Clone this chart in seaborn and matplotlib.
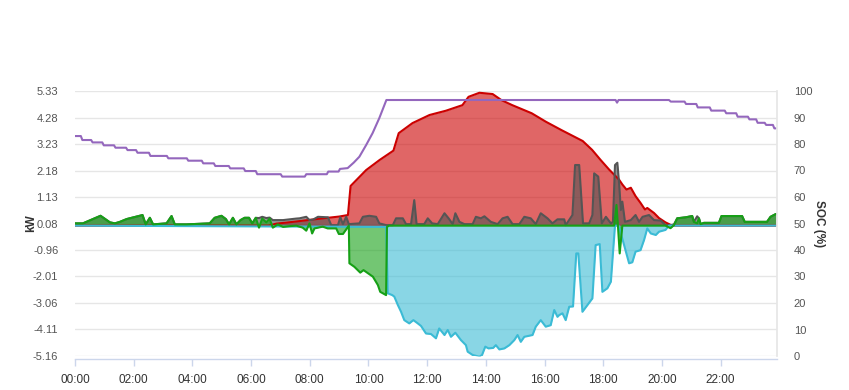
import matplotlib
matplotlib.use("Agg")
import matplotlib.pyplot as plt
import seaborn as sns
import pandas as pd

# ---------------- data (hours of day, kW / %) ----------------
pv = [(0, 0), (6.6, 0), (6.86, 0.08), (7.2, 0.12), (7.65, 0.18), (8.3, 0.27), (9.0, 0.36), (9.3, 0.42),
      (9.39, 1.57), (9.92, 2.2), (10.38, 2.6), (10.85, 2.97), (11.03, 3.66), (11.5, 4.06), (12.08, 4.38),
      (12.64, 4.55), (13.2, 4.77), (13.41, 5.1), (13.78, 5.26), (14.23, 5.21), (14.53, 4.97), (14.9, 4.77),
      (15.56, 4.45), (16.05, 4.11), (16.58, 3.78), (17.3, 3.35), (17.62, 3.0), (17.91, 2.6), (18.2, 2.22),
      (18.37, 2.02), (18.54, 1.82), (18.65, 1.63), (18.79, 1.43), (18.94, 1.5), (19.1, 1.17), (19.27, 0.9),
      (19.42, 0.64), (19.5, 0.7), (19.73, 0.5), (19.9, 0.3), (20.12, 0.13), (20.35, 0.0), (23.88, 0)]

load = [(0, 0.09), (0.27, 0.09), (0.61, 0.26), (0.87, 0.39), (1.08, 0.22), (1.19, 0.13), (1.36, 0.09),
        (1.53, 0.15), (1.76, 0.26), (1.93, 0.31), (2.21, 0.39), (2.3, 0.42), (2.41, 0.05), (2.55, 0.31),
        (2.66, 0.05), (3.12, 0.09), (3.29, 0.38), (3.4, 0.05), (3.8, 0.05), (4.59, 0.09), (4.76, 0.31),
        (4.99, 0.39), (5.14, 0.26), (5.25, 0.05), (5.38, 0.31), (5.5, 0.05), (5.64, 0.22), (5.78, 0.31),
        (5.93, 0.31), (6.04, 0.09), (6.16, 0.31), (6.27, 0.3), (6.38, 0.35), (6.52, 0.3), (6.63, 0.32),
        (6.74, 0.22), (6.91, 0.22), (7.09, 0.22), (7.31, 0.25), (7.54, 0.28), (7.65, 0.29), (7.88, 0.35),
        (7.99, 0.22), (8.11, 0.24), (8.28, 0.35), (8.62, 0.33), (8.73, 0.02), (8.96, 0.02), (9.04, 0.33),
        (9.13, 0.06), (9.24, 0.35), (9.33, 0.06), (9.69, 0.09), (9.81, 0.35), (10.03, 0.39), (10.26, 0.35),
        (10.37, 0.09), (10.6, 0.02), (10.83, 0.02), (10.94, 0.29), (11.17, 0.29), (11.28, 0.06), (11.45, 0.06),
        (11.56, 1.01), (11.64, 0.06), (11.9, 0.06), (12.02, 0.29), (12.17, 0.09), (12.36, 0.06), (12.59, 0.49),
        (12.73, 0.29), (12.87, 0.06), (12.96, 0.49), (13.1, 0.15), (13.27, 0.06), (13.55, 0.06), (13.66, 0.35),
        (13.83, 0.29), (13.95, 0.37), (14.17, 0.15), (14.4, 0.06), (14.57, 0.29), (14.74, 0.35), (14.91, 0.06),
        (15.14, 0.06), (15.31, 0.35), (15.53, 0.29), (15.7, 0.06), (15.87, 0.49), (16.1, 0.29), (16.27, 0.09),
        (16.44, 0.25), (16.67, 0.25), (16.72, 0.02), (16.95, 0.42), (17.04, 2.4), (17.18, 2.4), (17.31, 0.09),
        (17.52, 0.09), (17.63, 0.42), (17.69, 2.07), (17.83, 1.94), (17.95, 0.09), (18.09, 0.35), (18.26, 0.09),
        (18.33, 0.15), (18.4, 2.4), (18.48, 2.49), (18.54, 1.67), (18.6, 0.62), (18.65, 0.95), (18.74, 0.15),
        (18.94, 0.22), (19.1, 0.42), (19.22, 0.15), (19.34, 0.35), (19.56, 0.42), (19.73, 0.22), (19.96, 0.2),
        (20.12, 0.02), (20.29, 0.02), (20.41, 0.05), (20.52, 0.29), (20.81, 0.33), (21.03, 0.38), (21.09, 0.15),
        (21.2, 0.37), (21.26, 0.29), (21.32, 0.06), (21.43, 0.11), (21.94, 0.11), (22.03, 0.38), (22.73, 0.38),
        (22.82, 0.15), (23.58, 0.15), (23.7, 0.35), (23.88, 0.46)]

grid = [(0, 0), (10.6, -0.05), (10.66, -2.68), (10.81, -2.75), (10.88, -2.81), (11.0, -3.14), (11.11, -3.41),
        (11.22, -3.74), (11.39, -3.87), (11.53, -3.74), (11.68, -3.87), (11.79, -3.97), (11.96, -4.27),
        (12.13, -4.29), (12.3, -4.46), (12.41, -4.07), (12.59, -4.33), (12.7, -4.13), (12.81, -4.4),
        (12.96, -4.24), (13.15, -4.53), (13.32, -4.73), (13.38, -4.99), (13.55, -5.12), (13.78, -5.19),
        (13.87, -5.12), (13.98, -4.79), (14.09, -4.86), (14.25, -4.84), (14.34, -4.73), (14.46, -4.9),
        (14.63, -4.86), (14.8, -4.73), (14.97, -4.53), (15.08, -4.33), (15.19, -4.6), (15.31, -4.4),
        (15.59, -4.33), (15.7, -4.0), (15.87, -3.74), (16.04, -4.0), (16.21, -3.94), (16.33, -3.34),
        (16.44, -3.61), (16.5, -3.54), (16.61, -3.47), (16.72, -3.74), (16.84, -3.21), (16.97, -3.2),
        (17.08, -1.1), (17.15, -1.1), (17.29, -3.41), (17.63, -2.88), (17.74, -0.77), (17.88, -0.73),
        (17.97, -2.62), (18.14, -2.48), (18.26, -2.22), (18.33, -1.1), (18.4, 0), (18.52, 0), (18.6, -0.31),
        (18.71, -0.77), (18.88, -1.49), (18.99, -1.45), (19.1, -1.03), (19.27, -0.97), (19.39, -0.57),
        (19.5, -0.11), (19.62, -0.31), (19.79, -0.37), (19.9, -0.24), (20.12, -0.17), (20.24, 0), (23.88, 0)]

battery = [(0, 0.09), (0.27, 0.09), (0.61, 0.26), (0.87, 0.39), (1.08, 0.22), (1.19, 0.13), (1.36, 0.09),
           (1.53, 0.15), (1.76, 0.26), (1.93, 0.31), (2.21, 0.39), (2.3, 0.42), (2.41, 0.05), (2.55, 0.31),
           (2.66, 0.05), (3.12, 0.09), (3.29, 0.38), (3.4, 0.05), (3.8, 0.05), (4.59, 0.09), (4.76, 0.31),
           (4.99, 0.39), (5.14, 0.26), (5.25, 0.05), (5.38, 0.31), (5.5, 0.05), (5.64, 0.22), (5.78, 0.31),
           (5.93, 0.31), (6.04, 0.09), (6.16, 0.31), (6.27, -0.08), (6.38, 0.28), (6.52, 0.13), (6.63, 0.28),
           (6.74, -0.08), (6.91, 0.05), (7.09, -0.05), (7.31, -0.02), (7.54, 0.0), (7.76, -0.08), (7.88, -0.2),
           (7.99, 0.09), (8.08, -0.31), (8.16, -0.11), (8.44, -0.04), (8.61, -0.11), (8.9, -0.11), (8.99, -0.33),
           (9.13, -0.33), (9.24, -0.15), (9.33, 0.0), (9.35, -1.49), (9.52, -1.63), (9.72, -1.86), (9.83, -1.76),
           (10.15, -2.02), (10.32, -2.35), (10.4, -2.62), (10.54, -2.71), (10.6, -2.75), (10.63, -0.05),
           (10.7, 0.0), (18.37, 0.0), (18.45, 0.82), (18.5, 0.0), (18.56, -1.1), (18.65, 0.0), (20.12, 0.0),
           (20.29, -0.1), (20.41, 0.02), (20.52, 0.29), (20.81, 0.33), (21.03, 0.38), (21.09, 0.15), (21.2, 0.09),
           (21.26, 0.29), (21.32, 0.06), (21.43, 0.11), (21.94, 0.11), (22.03, 0.38), (22.73, 0.38),
           (22.82, 0.15), (23.58, 0.15), (23.7, 0.35), (23.88, 0.46)]

soc = [(0, 83), (0.2, 83), (0.25, 81.5), (0.55, 81.5), (0.6, 80.6), (0.93, 80.6), (0.98, 79.5), (1.33, 79.5),
       (1.38, 78.6), (1.74, 78.6), (1.79, 77.7), (2.08, 77.7), (2.13, 76.7), (2.52, 76.7), (2.57, 75.5),
       (3.13, 75.5), (3.18, 74.6), (3.81, 74.6), (3.86, 73.7), (4.32, 73.7), (4.37, 72.7), (4.73, 72.7),
       (4.78, 71.7), (5.24, 71.7), (5.29, 70.8), (5.75, 70.8), (5.8, 69.8), (6.16, 69.8), (6.21, 68.6),
       (7.01, 68.6), (7.06, 67.7), (7.83, 67.7), (7.88, 68.6), (8.58, 68.6), (8.63, 69.6), (8.98, 69.6),
       (9.03, 70.6), (9.29, 70.9), (9.5, 73.0), (9.69, 75.2), (9.92, 79.6), (10.14, 84.1), (10.37, 89.8),
       (10.61, 96.6), (18.42, 96.6), (18.47, 95.6), (18.52, 96.6), (20.24, 96.6), (20.3, 96.0), (20.77, 96.0),
       (20.82, 95.1), (21.17, 95.1), (21.22, 93.8), (21.63, 93.8), (21.68, 92.6), (22.14, 92.6), (22.19, 91.6),
       (22.53, 91.6), (22.58, 90.3), (22.93, 90.3), (22.98, 89.3), (23.21, 89.3), (23.26, 88.0), (23.5, 88.0),
       (23.55, 87.2), (23.78, 87.2), (23.83, 85.9), (23.88, 85.9)]

kw_ticks = [-5.16, -4.11, -3.06, -2.01, -0.96, 0.08, 1.13, 2.18, 3.23, 4.28, 5.33]
kw_labels = ["-5.16", "-4.11", "-3.06", "-2.01", "-0.96", "0.08", "1.13", "2.18", "3.23", "4.28", "5.33"]
soc_ticks = [0, 10, 20, 30, 40, 50, 60, 70, 80, 90, 100]
hour_ticks = [0, 2, 4, 6, 8, 10, 12, 14, 16, 18, 20, 22]
hour_labels = ["00:00", "02:00", "04:00", "06:00", "08:00", "10:00", "12:00",
               "14:00", "16:00", "18:00", "20:00", "22:00"]

# ---------------- drawing ----------------
sns.set_theme(style="white")
plt.rcParams["font.family"] = ["Liberation Sans", "DejaVu Sans"]

W, H = 849, 390
fig = plt.figure(figsize=(W / 100, H / 100), dpi=100)
L, R, T, B = 75, 777, 91, 356
ax = fig.add_axes([L / W, 1 - B / H, (R - L) / W, (B - T) / H])

def frame(pairs, col):
    return pd.DataFrame(pairs, columns=["h", col])

series = [
    (frame(pv, "kw"), "#cc0000", 0.6),
    (frame(load, "kw"), "#555555", 0.6),
    (frame(grid, "kw"), "#3bbbd5", 0.6),
    (frame(battery, "kw"), "#16a016", 0.6),
]
for df, col, a in series:
    ax.fill_between(df["h"], df["kw"], 0, color=col, alpha=a, lw=0, zorder=2)
    sns.lineplot(data=df, x="h", y="kw", ax=ax, color=col, lw=1.5, zorder=3, estimator=None, sort=False)

ax.set_xlim(0, 23.92)
ax.set_ylim(-5.16, 5.33)
ax.set_yticks(kw_ticks)
ax.set_yticklabels(kw_labels)
ax.set_xticks(hour_ticks)
ax.set_xticklabels(hour_labels)
ax.grid(axis="y", color="#e6e6e6", lw=1, zorder=0)
ax.grid(axis="x", visible=False)
for s in ["top", "left", "right"]:
    ax.spines[s].set_visible(False)
ax.spines["bottom"].set_color("#ccd6eb")
ax.spines["bottom"].set_linewidth(1)
ax.spines["bottom"].set_position(("outward", 2))
ax.tick_params(axis="x", colors="#ccd6eb", length=5, width=1, labelcolor="#333333", labelsize=8.5, pad=6, direction="out", bottom=True)
ax.tick_params(axis="y", length=0, labelcolor="#555555", labelsize=8, pad=12)
ax.set_xlabel("")
ax.set_ylabel("kW", fontsize=8.5, fontweight="bold", color="#333333", labelpad=-3)

ax2 = ax.twinx()
sd = frame(soc, "soc")
sns.lineplot(data=sd, x="h", y="soc", ax=ax2, color="#9467bd", lw=1.5, estimator=None, sort=False)
ax2.set_ylim(0, 100)
ax2.set_yticks(soc_ticks)
ax2.set_xlim(0, 23.92)
ax2.grid(False)
for s in ["top", "left", "bottom"]:
    ax2.spines[s].set_visible(False)
ax2.spines["right"].set_color("#e6e6e6")
ax2.tick_params(axis="y", length=0, labelcolor="#555555", labelsize=8, pad=12)
ax2.set_ylabel("SOC (%)", fontsize=8.5, fontweight="bold", color="#333333", rotation=270, labelpad=9)

fig.savefig("out.png", dpi=100)
